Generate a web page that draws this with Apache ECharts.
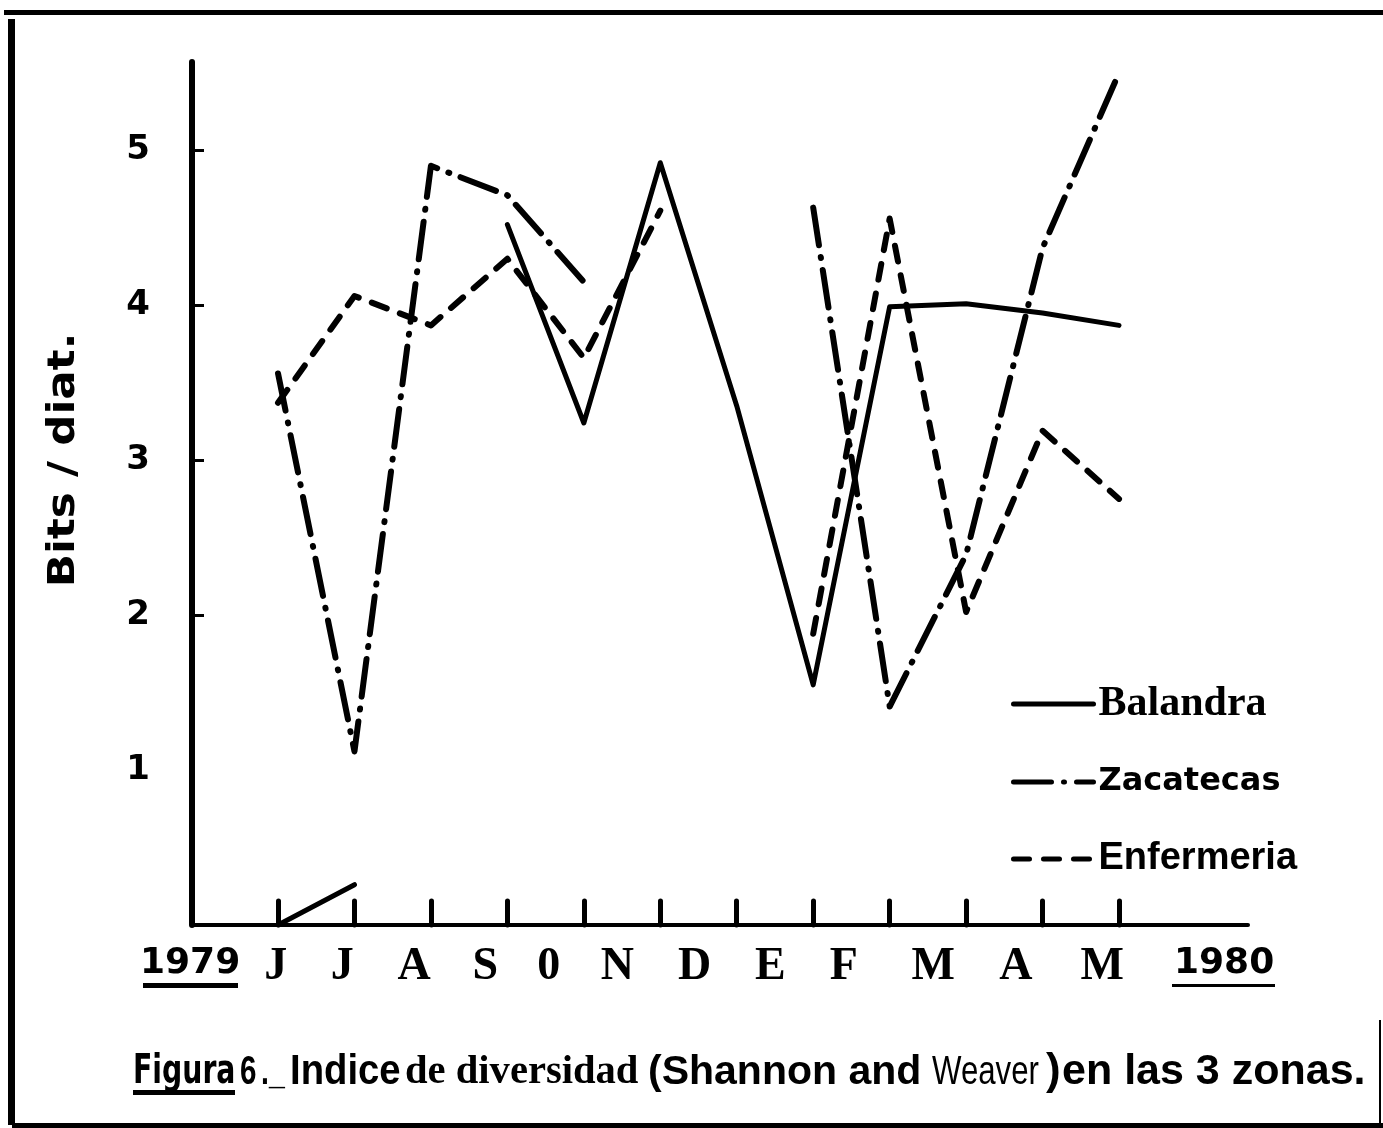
<!DOCTYPE html>
<html><head><meta charset="utf-8">
<script src="https://cdn.jsdelivr.net/npm/echarts@6/dist/echarts.min.js"></script>
<style>html,body{margin:0;padding:0;background:#fff}#c{width:1383px;height:1128px}</style>
</head><body><div id="c"></div>
<script>
// ---- data ----
const months = ['J','J','A','S','0','N','D','E','F','M','A','M'];
const monthIdx = [0,1,2,3,4,5,6,7,8,9,10,11];
const yTicks = [1,2,3,4,5];
const yTickMarks = [2,3,4,5];
const balandra   = [0, 0.26, null, 4.52, 3.24, 4.92, 3.35, 1.55, 3.99, 4.01, 3.95, 3.87];
const zacatecas  = [3.56, 1.12, 4.90, 4.71, 4.15, null, null, 4.63, 1.41, 2.39, 4.37, 5.50];
const enfermeria = [3.37, 4.06, 3.87, 4.30, 3.66, 4.61, null, 1.88, 4.56, 2.02, 3.19, 2.75];
const seriesNames = ['Balandra','Zacatecas','Enfermeria'];
const yearStart = '1979', yearEnd = '1980';
const yName = 'Bits / diat.';
const captionParts = ['Figura','6','._','Indice','de diversidad','(Shannon and','Weaver',')','en las 3 zonas.'];

// layout only: the hand-lettered month labels sit a little left of their ticks
const labelShift = [-0.03,-0.16,-0.22,-0.29,-0.46,-0.56,-0.55,-0.56,-0.60,-0.43,-0.35,-0.22];
const labelVals = monthIdx.map(i => +(i + labelShift[i]).toFixed(3));

function pairs(arr){ return arr.map((v,i)=>[monthIdx[i], v==null ? '-' : v]); }

// caption styling (typeset piecewise like the original's mixed lettering)
const capStyle = [
  {x:133,  fs:41, fam:'"DejaVu Sans"', w:'bold', sx:0.69},
  {x:240,  fs:40, fam:'"Liberation Sans"', w:'bold', sx:0.74},
  {x:261,  fs:38, fam:'"Liberation Sans"', w:'bold', sx:0.75},
  {x:290,  fs:43, fam:'"Liberation Sans"', w:'bold', sx:0.89},
  {x:405,  fs:41, fam:'"Liberation Serif"', w:'bold', sx:0.99},
  {x:648,  fs:41, fam:'"Liberation Sans"', w:'bold', sx:1.0},
  {x:932,  fs:40, fam:'"Liberation Sans"', w:'normal', sx:0.78},
  {x:1046, fs:44, fam:'"Liberation Sans"', w:'bold', sx:1.0},
  {x:1062, fs:43, fam:'"Liberation Sans"', w:'bold', sx:1.0}
];
const CAP_BASE = 1087;
const captionEls = captionParts.map((t,i)=>{
  const s = capStyle[i];
  return {type:'text', x:s.x, y:CAP_BASE - 0.35*s.fs, scaleX:s.sx, silent:true,
    style:{text:t, fill:'#000', font:s.w+' '+s.fs+'px '+s.fam, align:'left', verticalAlign:'middle'}};
});

const chart = echarts.init(document.getElementById('c'), null, {renderer:'canvas'});
const lineBase = {type:'line', symbol:'none', xAxisIndex:0, yAxisIndex:0, animation:false, connectNulls:false};
const X_MIN = -1.125, X_MAX = 12.687;

chart.setOption({
  backgroundColor:'#fff',
  animation:false,
  grid:{left:192, right:135, top:62, bottom:203, containLabel:false},
  xAxis:[
    {type:'value', min:X_MIN, max:X_MAX, position:'bottom',
     axisLine:{show:true, onZero:false, lineStyle:{color:'#000', width:4}},
     axisTick:{show:true, inside:true, length:24, customValues:monthIdx, lineStyle:{color:'#000', width:5, cap:'round'}},
     axisLabel:{show:false}, splitLine:{show:false}},
    {type:'value', min:X_MIN, max:X_MAX, position:'bottom',
     axisLine:{show:false, onZero:false}, axisTick:{show:false}, splitLine:{show:false},
     axisLabel:{show:true, customValues:labelVals, margin:19,
       formatter:(v)=>{ let k=0, best=1e9; labelVals.forEach((x,i)=>{ if(Math.abs(x-v)<best){best=Math.abs(x-v);k=i;} }); return months[k]; },
       color:'#000', fontFamily:'Liberation Serif', fontWeight:'bold', fontSize:46}}
  ],
  yAxis:{type:'value', min:0, max:5.57, interval:1,
    axisLine:{show:true, onZero:false, lineStyle:{color:'#000', width:6}},
    axisTick:{show:true, inside:true, length:12, customValues:yTickMarks, lineStyle:{color:'#000', width:3}},
    axisLabel:{show:true, customValues:yTicks, margin:42, color:'#000', fontFamily:'DejaVu Sans', fontWeight:'bold', fontSize:34},
    splitLine:{show:false}},
  legend:{orient:'vertical', left:1006, top:678, itemWidth:80, itemHeight:20, itemGap:37,
    itemStyle:{opacity:0},
    lineStyle:{width:5, cap:'round'},
    textStyle:{color:'#000', lineHeight:40},
    data:[
      {name:seriesNames[0], textStyle:{fontFamily:'Liberation Serif', fontWeight:'bold', fontSize:42, color:'#000', lineHeight:40}},
      {name:seriesNames[1], textStyle:{fontFamily:'DejaVu Sans', fontWeight:'bold', fontSize:32, color:'#000', lineHeight:40}},
      {name:seriesNames[2], textStyle:{fontFamily:'Liberation Sans', fontWeight:'bold', fontSize:38, color:'#000', lineHeight:40}}
    ]},
  graphic:[
    {type:'rect', shape:{x:4, y:10, width:1379, height:5}, style:{fill:'#000'}, silent:true},
    {type:'rect', shape:{x:8, y:19, width:7, height:1106}, style:{fill:'#000'}, silent:true},
    {type:'rect', shape:{x:12, y:1123, width:1371, height:5}, style:{fill:'#000'}, silent:true},
    {type:'rect', shape:{x:1379, y:1020, width:2, height:105}, style:{fill:'#000'}, silent:true},
    {type:'text', x:64, y:460, rotation:Math.PI/2, scaleX:1.18,
     style:{text:yName, fill:'#000', font:'bold 37px "DejaVu Sans"', align:'center', verticalAlign:'middle'}},
    {type:'text', left:140, top:946, style:{text:yearStart, fill:'#000', font:'bold 36px "DejaVu Sans"'}},
    {type:'rect', shape:{x:143, y:983, width:95, height:5}, style:{fill:'#000'}},
    {type:'text', left:1174, top:946, style:{text:yearEnd, fill:'#000', font:'bold 36px "DejaVu Sans"'}},
    {type:'rect', shape:{x:1172, y:984, width:103, height:3}, style:{fill:'#000'}},
    {type:'rect', shape:{x:133, y:1090, width:102, height:5}, style:{fill:'#000'}}
  ].concat(captionEls),
  series:[
    Object.assign({}, lineBase, {name:seriesNames[0], data:pairs(balandra),
      lineStyle:{color:'#000', width:5, type:'solid', cap:'round', join:'round'}, itemStyle:{color:'#000'}}),
    Object.assign({}, lineBase, {name:seriesNames[1], data:pairs(zacatecas),
      lineStyle:{color:'#000', width:6, type:[38,12,1,12], cap:'round', join:'round'}, itemStyle:{color:'#000'}}),
    Object.assign({}, lineBase, {name:seriesNames[2], data:pairs(enfermeria),
      lineStyle:{color:'#000', width:6, type:[16,14], cap:'round', join:'round'}, itemStyle:{color:'#000'}})
  ]
});
</script></body></html>
